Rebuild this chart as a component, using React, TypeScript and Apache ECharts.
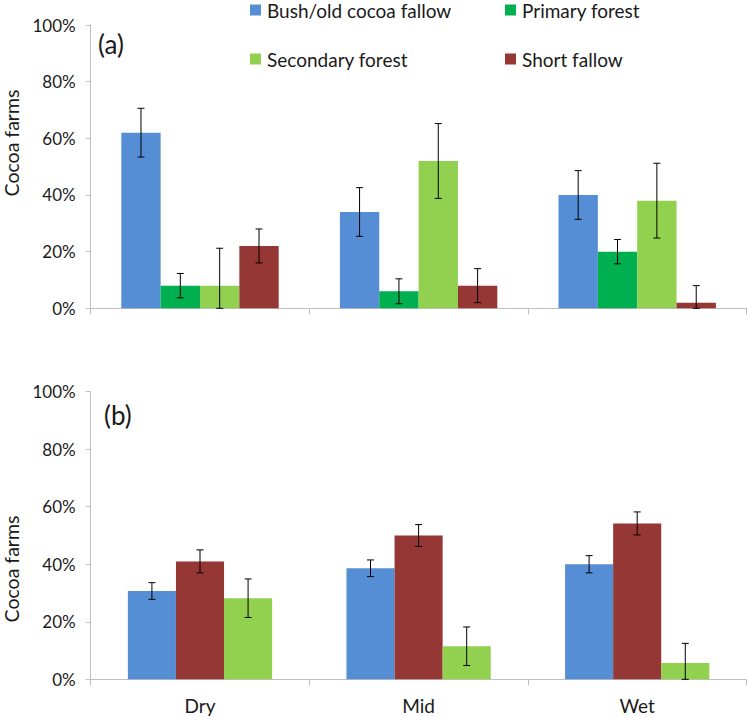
import React, { useEffect, useRef } from "react";
import * as echarts from "echarts";

const categories = ["Dry", "Mid", "Wet"];
const seriesNames = ["Bush/old cocoa fallow", "Primary forest", "Secondary forest", "Short fallow"];
const colors = {
  bush: "#558ED5",
  primary: "#00B050",
  secondary: "#92D050",
  short: "#953735",
};

// Panel (a)
const bushA = [62, 34, 40];
const bushAErr = [8.6, 8.6, 8.6];
const primaryA = [8, 6, 20];
const primaryAErr = [4.3, 4.4, 4.3];
const secondaryA = [8, 52, 38];
const secondaryAErr = [13.2, 13.2, 13.2];
const shortA = [22, 8, 2];
const shortAErr = [6, 6, 6];

// Panel (b)
const bushB = [30.7, 38.6, 40];
const bushBErr = [2.9, 2.9, 3];
const shortB = [41, 50, 54.2];
const shortBErr = [4, 3.8, 4];
const secondaryB = [28.2, 11.5, 5.7];
const secondaryBErr = [6.7, 6.7, 6.8];

const yTicks = [0, 20, 40, 60, 80, 100];

const FONT = "Lato, 'Open Sans', sans-serif";
const AXIS_COLOR = "#BFBFBF";
const TEXT_COLOR = "#1a1a1a";

function errData(groups: { v: number[]; e: number[] }[]) {
  const out: number[][] = [];
  groups.forEach((g, si) => {
    g.v.forEach((v, ci) => {
      out.push([ci, si, Math.max(0, v - g.e[ci]), v + g.e[ci]]);
    });
  });
  return out;
}

function makeErrSeries(data: number[][], n: number, gap: number, axisIndex: number) {
  return {
    type: "custom",
    xAxisIndex: axisIndex,
    yAxisIndex: axisIndex,
    silent: true,
    z: 10,
    encode: { x: 0, y: [2, 3] },
    data,
    renderItem: (params: any, api: any) => {
      const cat = api.value(0);
      const idx = api.value(1);
      const low = api.value(2);
      const high = api.value(3);
      const band = api.size([1, 0])[0];
      const barW = (band * (1 - gap)) / n;
      const center = api.coord([cat, 0])[0];
      const x = center - (barW * n) / 2 + barW * (idx + 0.5);
      const yLow = api.coord([cat, low])[1];
      const yHigh = api.coord([cat, high])[1];
      const cap = 3.5;
      const style = { stroke: "#000", lineWidth: 1 };
      return {
        type: "group",
        children: [
          { type: "line", shape: { x1: x, y1: yLow, x2: x, y2: yHigh }, style },
          { type: "line", shape: { x1: x - cap, y1: yHigh, x2: x + cap, y2: yHigh }, style },
          { type: "line", shape: { x1: x - cap, y1: yLow, x2: x + cap, y2: yLow }, style },
        ],
      };
    },
  };
}

export default function App() {
  const ref = useRef<HTMLDivElement>(null);
  useEffect(() => {
    if (!ref.current) return;
    const chart = echarts.init(ref.current, undefined, { renderer: "svg" });
    const gapA = 0.28;
    const gapB = 0.34;

    const yAxisBase = (gridIndex: number) => ({
      type: "value",
      gridIndex,
      min: 0,
      max: 100,
      interval: 20,
      axisLine: { show: true, lineStyle: { color: AXIS_COLOR, width: 1 } },
      axisTick: { show: true, length: 5, lineStyle: { color: AXIS_COLOR } },
      splitLine: { show: false },
      axisLabel: {
        formatter: (v: number) => (yTicks.includes(v) ? v + "%" : ""),
        fontFamily: FONT,
        fontSize: 17,
        color: TEXT_COLOR,
        margin: 15,
      },
    });

    const xAxisBase = (gridIndex: number, showLabel: boolean) => ({
      type: "category",
      gridIndex,
      data: categories,
      axisLine: { show: true, lineStyle: { color: AXIS_COLOR, width: 1 } },
      axisTick: { show: true, length: 6, interval: 0, lineStyle: { color: AXIS_COLOR } },
      axisLabel: {
        show: showLabel,
        fontFamily: FONT,
        fontSize: 19,
        color: TEXT_COLOR,
        margin: 17,
      },
    });

    const legendItem = (name: string, left: number, top: number) => ({
      data: [name],
      left,
      top,
      padding: 0,
      icon: "rect",
      itemWidth: 11,
      itemHeight: 11,
      itemGap: 0,
      textStyle: { fontFamily: FONT, fontSize: 19, color: TEXT_COLOR, lineHeight: 20, padding: [0, 0, 0, 1] },
      selectedMode: false,
    });

    const yName = (y: number) => ({
      type: "text",
      x: 11,
      y,
      rotation: Math.PI / 2,
      style: {
        text: "Cocoa farms",
        fontFamily: FONT,
        fontSize: 19.5,
        fill: TEXT_COLOR,
        align: "center",
        verticalAlign: "middle",
      },
    });

    const option: any = {
      animation: false,
      grid: [
        { left: 90.7, right: 0.5, top: 25, height: 283.3 },
        { left: 90.7, right: 0.5, top: 391.7, height: 287.6 },
      ],
      legend: [
        legendItem(seriesNames[0], 250, 0),
        legendItem(seriesNames[1], 505, 0),
        legendItem(seriesNames[2], 250, 49),
        legendItem(seriesNames[3], 505, 49),
      ],
      xAxis: [xAxisBase(0, false), xAxisBase(1, true)],
      yAxis: [yAxisBase(0), yAxisBase(1)],
      graphic: [
        {
          type: "text",
          left: 98,
          top: 31,
          style: { text: "(a)", fontFamily: FONT, fontSize: 26, fill: TEXT_COLOR },
        },
        {
          type: "text",
          left: 104,
          top: 402,
          style: { text: "(b)", fontFamily: FONT, fontSize: 26, fill: TEXT_COLOR },
        },
        yName(143),
        yName(569),
      ],
      series: [
        { name: seriesNames[0], type: "bar", xAxisIndex: 0, yAxisIndex: 0, data: bushA, itemStyle: { color: colors.bush }, barGap: "0%", barCategoryGap: gapA * 100 + "%" },
        { name: seriesNames[1], type: "bar", xAxisIndex: 0, yAxisIndex: 0, data: primaryA, itemStyle: { color: colors.primary }, barGap: "0%", barCategoryGap: gapA * 100 + "%" },
        { name: seriesNames[2], type: "bar", xAxisIndex: 0, yAxisIndex: 0, data: secondaryA, itemStyle: { color: colors.secondary }, barGap: "0%", barCategoryGap: gapA * 100 + "%" },
        { name: seriesNames[3], type: "bar", xAxisIndex: 0, yAxisIndex: 0, data: shortA, itemStyle: { color: colors.short }, barGap: "0%", barCategoryGap: gapA * 100 + "%" },
        makeErrSeries(
          errData([
            { v: bushA, e: bushAErr },
            { v: primaryA, e: primaryAErr },
            { v: secondaryA, e: secondaryAErr },
            { v: shortA, e: shortAErr },
          ]),
          4,
          gapA,
          0
        ),
        { name: seriesNames[0], type: "bar", xAxisIndex: 1, yAxisIndex: 1, data: bushB, itemStyle: { color: colors.bush }, barGap: "0%", barCategoryGap: gapB * 100 + "%" },
        { name: seriesNames[3], type: "bar", xAxisIndex: 1, yAxisIndex: 1, data: shortB, itemStyle: { color: colors.short }, barGap: "0%", barCategoryGap: gapB * 100 + "%" },
        { name: seriesNames[2], type: "bar", xAxisIndex: 1, yAxisIndex: 1, data: secondaryB, itemStyle: { color: colors.secondary }, barGap: "0%", barCategoryGap: gapB * 100 + "%" },
        makeErrSeries(
          errData([
            { v: bushB, e: bushBErr },
            { v: shortB, e: shortBErr },
            { v: secondaryB, e: secondaryBErr },
          ]),
          3,
          gapB,
          1
        ),
      ],
    };
    chart.setOption(option);
    return () => chart.dispose();
  }, []);
  return (
    <div
      ref={ref}
      style={{ position: "fixed", left: 0, top: 0, width: 747, height: 717, background: "#fff" }}
    />
  );
}
